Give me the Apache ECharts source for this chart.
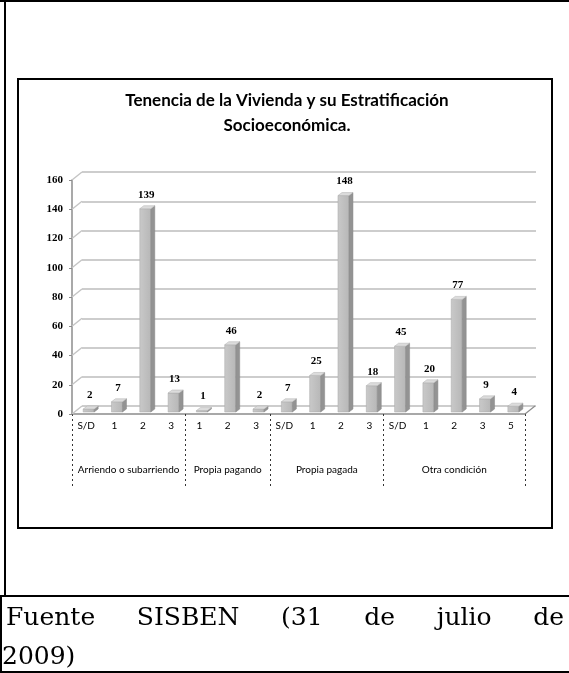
<!DOCTYPE html>
<html>
<head>
<meta charset="utf-8">
<title>Tenencia de la Vivienda</title>
<script src="https://cdn.jsdelivr.net/npm/echarts@6.0.0/dist/echarts.min.js"></script>
<style>
  html, body { margin: 0; padding: 0; background: #fff; }
  .page { position: relative; width: 569px; height: 673px; overflow: hidden; }
  .ln { position: absolute; background: #000; }
  #box { position: absolute; left: 17px; top: 78px; width: 532px; height: 447px; border: 2px solid #000; }
  #chart { position: absolute; left: 0; top: 0; width: 569px; height: 673px; }
  .fuente { position: absolute; left: 6px; width: 558px; top: 597px;
    font-family: 'DejaVu Serif', serif; font-size: 25px; line-height: 39px; color: #000; }
  .fuente .l1 { text-align: justify; text-align-last: justify; }
  .fuente .l2 { margin-left: -4px; }
</style>
</head>
<body>
<div class="page">
  <!-- bordes de la tabla -->
  <div class="ln" style="left:0;top:0;width:569px;height:2px;"></div>
  <div class="ln" style="left:4px;top:0;width:2px;height:597px;"></div>
  <div class="ln" style="left:0;top:595px;width:569px;height:2px;"></div>
  <div class="ln" style="left:0;top:595px;width:2px;height:78px;"></div>
  <div class="ln" style="left:0;top:671px;width:569px;height:2px;"></div>
  <div id="box"></div>
  <div id="chart"></div>
  <div class="fuente">
    <div class="l1">Fuente SISBEN (31 de julio de</div>
    <div class="l2">2009)</div>
  </div>
</div>
<script>
const titleLines = ['Tenencia de la Vivienda y su Estratificación', 'Socioeconómica.']
const subLabels = ['S/D', '1', '2', '3', '1', '2', '3', 'S/D', '1', '2', '3', 'S/D', '1', '2', '3', '5']
const values = [2, 7, 139, 13, 1, 46, 2, 7, 25, 148, 18, 45, 20, 77, 9, 4]
const groupNames = ['Arriendo o subarriendo', 'Propia pagando', 'Propia pagada', 'Otra condición']
const groupSizes = [4, 3, 4, 5]
const yMax = 160
const yStep = 20

// limites y centros de los grupos
const groupBounds = [0]
const groupCenters = []
groupSizes.forEach((n, i) => {
  groupCenters.push(groupBounds[i] + n / 2)
  groupBounds.push(groupBounds[i] + n)
})
const yTicks = []
for (let v = 0; v <= yMax; v += yStep) yTicks.push(v)

// profundidad 3D
const DX = 10
const DY = 8

const chart = echarts.init(document.getElementById('chart'))

const option = {
  animation: false,
  graphic: [
    {
      type: 'text',
      x: 287,
      y: 88,
      style: {
        text: titleLines.join('\n'),
        align: 'center',
        verticalAlign: 'top',
        font: 'bold 17px Lato',
        lineHeight: 25,
        fill: '#000'
      }
    }
  ],
  grid: [
    { left: 72, right: 44, top: 180, bottom: 259 },
    { left: 72 + DX, right: 44 - DX - 1, top: 180 - DY, bottom: 259 + DY }
  ],
  xAxis: [
    {
      type: 'category',
      gridIndex: 0,
      data: subLabels,
      axisLine: { lineStyle: { color: '#8c8c8c', width: 1.5 } },
      axisTick: { interval: 0, length: 30, lineStyle: { color: '#333', type: [2, 3] } },
      axisLabel: { interval: 0, margin: 7, fontFamily: 'Lato', fontSize: 10, color: '#000' }
    },
    { type: 'value', gridIndex: 1, show: false, min: 0, max: 1 },
    {
      type: 'value',
      gridIndex: 0,
      position: 'bottom',
      offset: 0,
      min: 0,
      max: groupBounds[groupBounds.length - 1],
      axisLine: { show: false },
      splitLine: { show: false },
      axisTick: { customValues: groupBounds, length: 75, lineStyle: { color: '#333', type: [2, 3] } },
      axisLabel: {
        customValues: groupCenters,
        margin: 51,
        fontFamily: 'Lato',
        fontSize: 10,
        color: '#000',
        formatter: v => groupNames[groupCenters.indexOf(v)]
      }
    }
  ],
  yAxis: [
    {
      type: 'value',
      gridIndex: 0,
      min: 0,
      max: yMax,
      interval: yStep,
      axisLine: { show: true, lineStyle: { color: '#8c8c8c', width: 1.5 } },
      axisTick: { show: true, length: 3, lineStyle: { color: '#8c8c8c' } },
      axisLabel: { margin: 9, fontFamily: 'Liberation Serif', fontWeight: 'bold', fontSize: 11, color: '#000' },
      splitLine: { show: false }
    },
    {
      type: 'value',
      gridIndex: 1,
      min: 0,
      max: yMax,
      interval: yStep,
      axisLine: { show: false },
      axisTick: { show: false },
      axisLabel: { show: false },
      splitLine: { show: true, lineStyle: { color: '#cdcdcd', width: 2 } }
    }
  ],
  series: [
    {
      // paredes: diagonales del muro izquierdo y esquina del piso
      type: 'custom',
      xAxisIndex: 0,
      yAxisIndex: 0,
      silent: true,
      data: yTicks.map(v => [0, v]),
      renderItem (params, api) {
        const cs = params.coordSys
        const p = api.coord([0, api.value(1)])
        const style = { stroke: '#c4c4c4', lineWidth: 1.5 }
        const children = [
          { type: 'line', shape: { x1: cs.x, y1: p[1], x2: cs.x + DX, y2: p[1] - DY }, style }
        ]
        if (api.value(1) === 0) {
          children.push({
            type: 'line',
            shape: { x1: cs.x + cs.width, y1: p[1], x2: cs.x + cs.width + DX, y2: p[1] - DY },
            style: { stroke: '#8c8c8c', lineWidth: 1.2 }
          })
        }
        return { type: 'group', children }
      }
    },
    {
      type: 'custom',
      name: 'Tenencia',
      xAxisIndex: 0,
      yAxisIndex: 0,
      data: values.map((v, i) => [i, v]),
      renderItem (params, api) {
        const p0 = api.coord([api.value(0), 0])
        const p1 = api.coord([api.value(0), api.value(1)])
        const w = 11
        const d = 4
        const h = 3
        const x0 = p0[0] - 3
        const x1 = x0 + w
        const yb = p0[1] - 2
        const yt = p1[1] - 2
        return {
          type: 'group',
          children: [
            {
              type: 'rect',
              shape: { x: x0, y: yt, width: w, height: yb - yt },
              style: {
                fill: new echarts.graphic.LinearGradient(0, 0, 1, 0, [
                  { offset: 0, color: '#c9c9c9' },
                  { offset: 1, color: '#b7b7b7' }
                ]),
                stroke: '#a8a8a8',
                lineWidth: 0.5
              }
            },
            {
              type: 'polygon',
              shape: { points: [[x1, yb], [x1, yt], [x1 + d, yt - h], [x1 + d, yb - h]] },
              style: { fill: '#939393', stroke: '#888', lineWidth: 0.5 }
            },
            {
              type: 'polygon',
              shape: { points: [[x0, yt], [x1, yt], [x1 + d, yt - h], [x0 + d, yt - h]] },
              style: { fill: '#dcdcdc', stroke: '#b0b0b0', lineWidth: 0.5 }
            },
            {
              type: 'text',
              x: x0 + w / 2 + 1,
              y: yt - h - 11,
              style: {
                text: String(api.value(1)),
                align: 'center',
                verticalAlign: 'middle',
                font: 'bold 11px "Liberation Serif"',
                fill: '#000'
              }
            }
          ]
        }
      }
    }
  ]
}

chart.setOption(option)
window.onresize = () => {
  chart.resize()
}
</script>
</body>
</html>
